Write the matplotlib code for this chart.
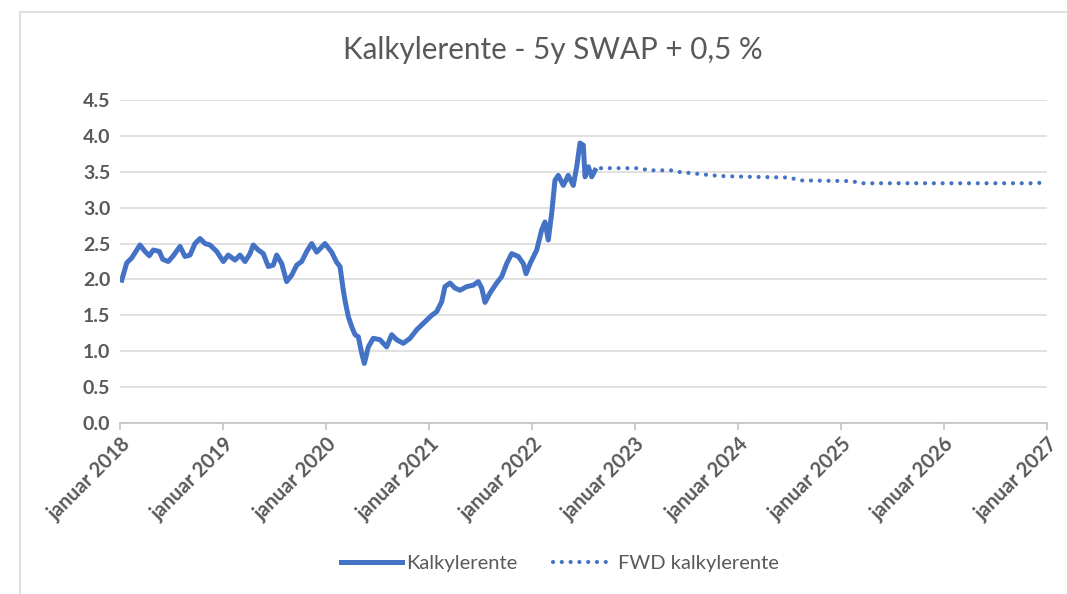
import numpy as np
import matplotlib
matplotlib.use('Agg')
import matplotlib.pyplot as plt
from matplotlib.patches import Rectangle

# ---------------------------------------------------------------------------
# Data (x in decimal years)
# ---------------------------------------------------------------------------

kalk_year = [
    2018.017, 2018.065, 2018.114, 2018.194, 2018.243, 2018.284, 2018.323,
    2018.382, 2018.415, 2018.469, 2018.517, 2018.583, 2018.631, 2018.680,
    2018.728, 2018.777, 2018.825, 2018.874, 2018.939, 2019.003, 2019.051,
    2019.117, 2019.165, 2019.214, 2019.262, 2019.294, 2019.343, 2019.391,
    2019.440, 2019.488, 2019.521, 2019.570, 2019.618, 2019.667, 2019.716,
    2019.764, 2019.813, 2019.861, 2019.910, 2019.990, 2020.055, 2020.103,
    2020.136, 2020.168, 2020.184, 2020.217, 2020.250, 2020.282, 2020.314,
    2020.347, 2020.372, 2020.411, 2020.459, 2020.524, 2020.589, 2020.638,
    2020.686, 2020.750, 2020.816, 2020.881, 2020.961, 2021.026, 2021.074,
    2021.123, 2021.155, 2021.204, 2021.252, 2021.301, 2021.366, 2021.430,
    2021.479, 2021.512, 2021.544, 2021.592, 2021.657, 2021.706, 2021.754,
    2021.803, 2021.867, 2021.916, 2021.942, 2021.981, 2022.046, 2022.094,
    2022.126, 2022.158, 2022.191, 2022.223, 2022.255, 2022.304, 2022.352,
    2022.401, 2022.434, 2022.466, 2022.498, 2022.515, 2022.547, 2022.580,
    2022.612,
]
kalk_value = [
    1.99, 2.23, 2.30, 2.48, 2.39, 2.33, 2.41,
    2.39, 2.28, 2.25, 2.33, 2.46, 2.32, 2.34,
    2.50, 2.57, 2.50, 2.48, 2.39, 2.25, 2.34,
    2.27, 2.34, 2.25, 2.36, 2.48, 2.41, 2.36,
    2.18, 2.20, 2.34, 2.22, 1.97, 2.06, 2.20,
    2.25, 2.39, 2.50, 2.38, 2.50, 2.38, 2.24,
    2.18, 1.85, 1.71, 1.48, 1.34, 1.23, 1.20,
    0.97, 0.83, 1.06, 1.18, 1.16, 1.06, 1.23,
    1.16, 1.11, 1.18, 1.30, 1.41, 1.50, 1.55,
    1.69, 1.90, 1.95, 1.88, 1.85, 1.90, 1.92,
    1.97, 1.88, 1.68, 1.81, 1.95, 2.04, 2.22,
    2.36, 2.32, 2.22, 2.08, 2.22, 2.41, 2.69,
    2.80, 2.55, 2.92, 3.38, 3.45, 3.31, 3.45,
    3.31, 3.57, 3.90, 3.87, 3.43, 3.57, 3.43,
    3.52,
]

fwd_year = [
    2022.67, 2023.05, 2023.13, 2023.35, 2023.41, 2023.55, 2023.75,
    2023.85, 2024.10, 2024.50, 2024.60, 2025.10, 2025.20, 2026.00,
    2026.90, 2027.00,
]
fwd_value = [
    3.55, 3.55, 3.52, 3.52, 3.50, 3.48, 3.45,
    3.44, 3.43, 3.42, 3.38, 3.37, 3.34, 3.34,
    3.34, 3.36,
]

tick_years = list(range(2018, 2028))
tick_labels = [f'januar {y}' for y in tick_years]
y_ticks = [0.0, 0.5, 1.0, 1.5, 2.0, 2.5, 3.0, 3.5, 4.0, 4.5]

# ---------------------------------------------------------------------------
# Plot
# ---------------------------------------------------------------------------

BLUE = '#4472C4'
GREY_TXT = '#595959'
GRID = '#d9d9d9'
plt.rcParams['font.family'] = ['Lato', 'DejaVu Sans']

fig = plt.figure(figsize=(10.67, 5.94), dpi=100)
W, H = 1067, 594

# chart frame (cropped at right and bottom in the reference)
fig.patches.append(Rectangle((20 / W, -0.1), 1.2, 1.1 - 12 / H,
                             transform=fig.transFigure, fill=False,
                             edgecolor=GRID, lw=1.2))

ax = fig.add_axes([120 / W, 1 - 423 / H, (1047 - 120) / W, (423 - 100) / H])

ax.plot(kalk_year, kalk_value, color=BLUE, lw=3.6, solid_joinstyle='round',
        label='Kalkylerente')
ax.plot(fwd_year, fwd_value, color=BLUE, lw=3.0,
        linestyle=(0, (0.01, 2.1)), dash_capstyle='round',
        label='FWD kalkylerente')

ax.set_xlim(2018, 2027)
ax.set_ylim(0, 4.5)
ax.set_yticks(y_ticks)
ax.set_yticklabels([f'{v:.1f}' for v in y_ticks])
ax.set_xticks(tick_years)
ax.set_xticklabels(tick_labels, rotation=45, ha='right', va='top',
                   rotation_mode='anchor')

ax.grid(axis='y', color=GRID, lw=1.1)
ax.set_axisbelow(True)
for s in ('left', 'right', 'top'):
    ax.spines[s].set_visible(False)
ax.spines['bottom'].set_color('#bfbfbf')
ax.spines['bottom'].set_linewidth(1.1)
ax.tick_params(axis='y', length=0, pad=7, labelsize=14, labelcolor=GREY_TXT)
ax.tick_params(axis='x', length=5, color='#bfbfbf', width=1.1, pad=3,
               labelsize=14.5, labelcolor=GREY_TXT)
for lab in ax.get_xticklabels() + ax.get_yticklabels():
    lab.set_fontweight('bold')

fig.text(553 / W, 1 - 50 / H, 'Kalkylerente - 5y SWAP + 0,5 %',
         ha='center', va='center', fontsize=21.3, color=GREY_TXT,
         fontweight='normal')

leg = fig.legend(loc='center', bbox_to_anchor=(560 / W, 1 - 563 / H),
                 ncol=2, frameon=False, fontsize=14.5, handlelength=3.0,
                 handletextpad=0.2, columnspacing=1.8)
for t in leg.get_texts():
    t.set_color(GREY_TXT)

fig.savefig('out.png', dpi=100, facecolor='white')
